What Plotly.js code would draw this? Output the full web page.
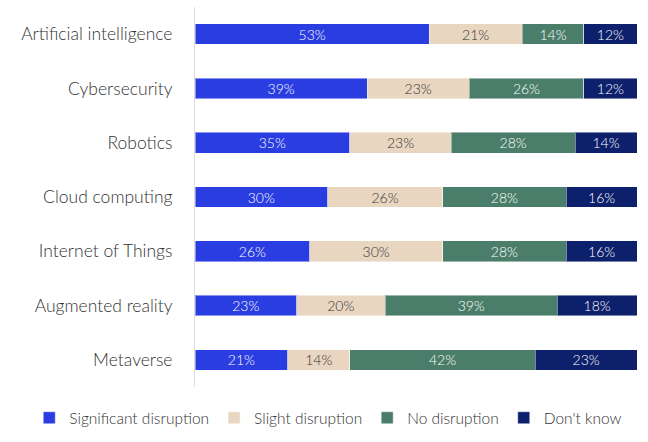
<!DOCTYPE html>
<html><head><meta charset="utf-8">
<script src="https://cdn.plot.ly/plotly-3.0.1.min.js"></script>
<style>html,body{margin:0;padding:0;background:#fff}#chart{width:648px;height:442px}</style>
</head><body><div id="chart"></div>
<script>
const categories = ["Artificial intelligence","Cybersecurity","Robotics","Cloud computing","Internet of Things","Augmented reality","Metaverse"];
const seriesNames = ["Significant disruption","Slight disruption","No disruption","Don't know"];
const significant = [53,39,35,30,26,23,21];
const slight = [21,23,23,26,30,20,14];
const none = [14,26,28,28,28,39,42];
const dontKnow = [12,12,14,16,16,18,23];
const colors = ["#2a3de0","#e8d6c1","#4b7e6a","#0c206b"];
const textColors = ["#ffffff","#333333","#ffffff","#ffffff"];
const allSeries = [significant, slight, none, dontKnow];

const traces = allSeries.map((vals,i)=>({
  type:"bar", orientation:"h", name:seriesNames[i],
  y:categories, x:vals,
  text:vals.map(v=>v+"%"), textposition:"inside", insidetextanchor:"middle",
  constraintext:"none", cliponaxis:false,
  textfont:{family:"Lato, sans-serif", size:14, color:textColors[i], weight:300},
  marker:{color:colors[i], line:{color:"rgba(255,255,255,0.45)", width:1}},
  hoverinfo:"none"
}));

const layout = {
  width:648, height:442,
  barmode:"stack", bargap:0.62,
  margin:{l:195,r:11,t:7,b:55},
  paper_bgcolor:"#fff", plot_bgcolor:"#fff",
  font:{family:"Lato, sans-serif", size:15, color:"#333", weight:300},
  xaxis:{range:[0,100], visible:false, fixedrange:true},
  yaxis:{autorange:"reversed", showline:true, linecolor:"#dddddd", linewidth:1,
         ticks:"", showgrid:false, ticklabelstandoff:18,
         tickfont:{family:"Lato, sans-serif", size:17.5, color:"#333", weight:300}},
  showlegend:true,
  legend:{orientation:"h", x:-0.375, xanchor:"left",
          y:-0.082, yanchor:"middle",
          font:{family:"Lato, sans-serif", size:15.5, color:"#333", weight:300},
          traceorder:"normal", itemwidth:30, bgcolor:"rgba(0,0,0,0)"},
  uniformtext:{mode:false}
};
Plotly.newPlot("chart", traces, layout, {staticPlot:true, displayModeBar:false});
</script></body></html>
